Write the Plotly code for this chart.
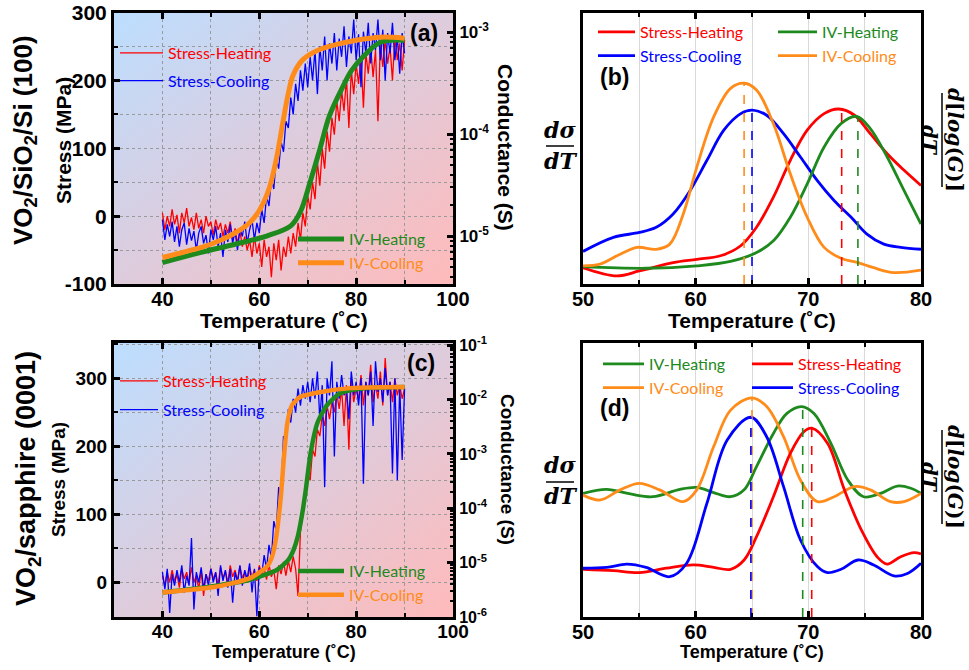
import base64
import plotly.graph_objects as go

# ---------------- data ----------------
# temperature sampling of the stress measurements (deg C)
T_stress = [round(40 + 0.5 * i, 1) for i in range(101)]

# (a) VO2/SiO2/Si (100) stress (MPa)
a_stress_heat = [5, -20, 0, -15, 10, -12, 2, -25, 5, -10, 12, -15, -2, -20, 5, -18, -5, -25, 0, -15,
                 -8, -28, -5, -20, -10, -30, -12, -25, -8, -35, -18, -40, -22, -45, -30, -50, -35, -60, -30, -55,
                 -40, -75, -35, -60, -45, -90, -40, -65, -35, -80, -45, -60, -30, -55, -25, -45, -10, -35, 5, -15,
                 30, 10, 50, 25, 80, 45, 100, 70, 125, 95, 145, 120, 170, 140, 185, 155, 205, 130, 215, 180,
                 225, 195, 235, 160, 240, 210, 250, 205, 245, 140, 255, 220, 260, 225, 250, 200, 265, 230, 255, 215,
                 260]
a_stress_cool = [-5, -35, -12, -30, -8, -38, -15, -45, -20, -10, -42, -18, -36, -22, -50, -25, -15, -40, -28, -55,
                 -20, -35, -15, -45, -25, -60, -20, -38, -12, -40, -22, -50, -18, -30, -8, -40, -20, -5, -35, -10,
                 -25, 10, -10, 30, 15, 55, 40, 85, 70, 110, 95, 140, 130, 175, 150, 195, 170, 215, 185, 225,
                 190, 235, 200, 245, 180, 250, 215, 265, 200, 255, 225, 270, 215, 262, 235, 280, 220, 265, 240, 290,
                 230, 268, 190, 272, 240, 285, 225, 270, 245, 290, 230, 275, 200, 270, 240, 285, 230, 265, 210, 270,
                 240]
# (a) conductance, log10(G / S)
a_ivh_T = [40, 48, 55, 61.5, 66.5, 68.5, 70.5, 72.5, 74.5, 77, 79, 81.5, 85, 90]
a_ivh_logG = [-5.26, -5.16, -5.08, -5.0, -4.9, -4.76, -4.47, -4.15, -3.82, -3.56, -3.38, -3.24, -3.10, -3.08]
a_ivc_T = [40, 45, 50, 55, 58, 60, 62, 63.5, 65, 66, 67, 69, 72, 76, 80, 85, 90]
a_ivc_logG = [-5.21, -5.15, -5.08, -4.97, -4.87, -4.75, -4.54, -4.25, -3.85, -3.6, -3.42, -3.27, -3.18, -3.12,
              -3.08, -3.05, -3.06]

# (c) VO2/sapphire (0001) stress (MPa)
c_stress_heat = [10, -5, 15, 0, 18, 2, 12, -8, 20, 5, 15, -2, 22, 0, 10, -10, 18, -20, 12, 2,
                 20, 5, 14, -3, 22, 6, 16, 0, 25, 8, 18, 2, 24, 6, 15, 0, 22, 8, 18, 2,
                 25, 10, 20, 4, 26, 8, 18, -10, 25, 12, 30, 10, 32, 15, 38, 20, -20, 75, 100, 130,
                 160, 150, 195, 185, 225, 215, 245, 230, 260, 240, 265, 250, 278, 255, 285, 230, 290, 195, 300, 265,
                 285, 270, 305, 260, 295, 275, 320, 265, 290, 270, 310, 260, 330, 275, 295, 265, 300, 275, 290, 270,
                 285]
c_stress_cool = [15, -10, 20, -45, 12, -5, 18, 0, 25, -15, 10, -5, 65, -40, 15, 0, 22, -10, 12, -5,
                 20, 0, 15, -20, 25, 2, 18, -8, 20, -30, 15, 0, 25, -5, 18, 5, 28, -15, 20, -50,
                 22, 10, 40, 20, 55, 35, 90, 75, 140, 130, 215, 200, 255, 235, 270, 250, 285, 260, 290, 270,
                 295, 265, 300, 270, 310, 240, 290, 140, 300, 275, 325, 185, 295, 270, 305, 275, 285, 240, 310, 275,
                 295, 260, 300, 145, 295, 275, 310, 230, 325, 280, 300, 265, 315, 275, 295, 160, 300, 150, 290, 180,
                 285]
c_ivh_T = [40, 50, 58.2, 63.7, 66, 67.1, 68, 68.9, 69.6, 70.6, 72, 74, 76.8, 82.3, 90]
c_ivh_logG = [-5.55, -5.44, -5.31, -5.13, -4.95, -4.76, -4.5, -4.08, -3.66, -2.98, -2.43, -2.10, -1.88, -1.79,
              -1.77]
c_ivc_T = [40, 51.3, 58.2, 61.6, 62.6, 63.4, 64.4, 65.1, 65.8, 66.8, 68.5, 72.7, 78.9, 90]
c_ivc_logG = [-5.55, -5.44, -5.28, -5.07, -4.9, -4.58, -3.84, -3.05, -2.43, -2.10, -1.95, -1.86, -1.79, -1.77]

# (b) derivatives (arbitrary units)
b_sh_T = [50, 53, 55, 58, 60.1, 62.2, 64, 65.4, 66.9, 68.4, 69.9, 71.4, 72.7, 74.1, 75.5, 77, 78.5, 80]
b_sh_v = [0.06, 0.03, 0.048, 0.079, 0.091, 0.104, 0.141, 0.209, 0.32, 0.456, 0.567, 0.628, 0.645, 0.622, 0.554,
          0.48, 0.419, 0.363]
b_sc_T = [50, 52.7, 55, 56.5, 58, 59.5, 61, 62.5, 64, 65, 66.3, 67.8, 69.3, 70.8, 72.3, 73.8, 75.2, 76.7, 78.2, 80]
b_sc_v = [0.12, 0.172, 0.19, 0.209, 0.258, 0.344, 0.456, 0.567, 0.628, 0.641, 0.622, 0.554, 0.468, 0.381, 0.307,
          0.246, 0.184, 0.147, 0.135, 0.128]
b_ivh_T = [50, 55.6, 60.1, 63.1, 65.4, 66.9, 68.4, 69.9, 71.4, 72.9, 74.3, 75.5, 77, 78.5, 80]
b_ivh_v = [0.064, 0.058, 0.067, 0.083, 0.116, 0.159, 0.246, 0.369, 0.505, 0.591, 0.618, 0.573, 0.468, 0.344, 0.221]
b_ivc_T = [50, 51.5, 53.3, 54.8, 56.5, 57.7, 58.9, 60.1, 61.6, 63.1, 64.3, 65.4, 66.9, 68.4, 69.9, 71.4, 72.9,
           74.4, 75.8, 77.6, 80]
b_ivc_v = [0.067, 0.073, 0.11, 0.135, 0.128, 0.147, 0.258, 0.431, 0.616, 0.721, 0.74, 0.715, 0.591, 0.406, 0.246,
           0.135, 0.095, 0.079, 0.06, 0.042, 0.051]
# peak markers (b): Stress-Heating, Stress-Cooling, IV-Heating, IV-Cooling
b_peak_T = [72.96, 65.0, 74.4, 64.3]
b_peak_v = [0.643, 0.641, 0.617, 0.74]

# (d) derivatives (arbitrary units)
d_ivh_T = [50, 52.1, 54.2, 56.2, 58.6, 60.1, 61.6, 63.1, 64.3, 65.4, 66.9, 68.1, 69.4, 70.5, 72, 73.5, 74.9, 76.4,
           77.9, 79.1, 80]
d_ivh_v = [0.451, 0.466, 0.449, 0.439, 0.466, 0.473, 0.454, 0.439, 0.464, 0.549, 0.67, 0.743, 0.768, 0.743, 0.634,
           0.5, 0.439, 0.451, 0.478, 0.47, 0.451]
d_ivc_T = [50, 51.5, 53.3, 55, 56.8, 58.9, 60.1, 61.6, 63.1, 65.0, 66.3, 67.8, 69.3, 70.8, 72.3, 74.1, 75.5, 77.3,
           78.5, 80]
d_ivc_v = [0.445, 0.427, 0.464, 0.488, 0.464, 0.421, 0.464, 0.622, 0.755, 0.8, 0.768, 0.658, 0.5, 0.421, 0.439,
           0.476, 0.464, 0.421, 0.421, 0.451]
d_sc_T = [50, 52.1, 53.9, 55.6, 57.7, 59.2, 61, 62.8, 64.9, 66.3, 67.8, 69.3, 70.8, 71.7, 72.9, 74.4, 75.8, 77.6,
          78.8, 80]
d_sc_v = [0.178, 0.181, 0.193, 0.181, 0.147, 0.196, 0.415, 0.646, 0.729, 0.658, 0.476, 0.281, 0.184, 0.162, 0.174,
          0.208, 0.19, 0.15, 0.159, 0.196]
d_sh_T = [50, 52.7, 55, 57.4, 59.8, 61.6, 63.1, 64.3, 65.4, 66.9, 68.4, 69.6, 70.3, 71.7, 73.2, 74.7, 76.1, 77,
          78.2, 79.4, 80]
d_sh_v = [0.174, 0.169, 0.162, 0.178, 0.19, 0.181, 0.174, 0.208, 0.293, 0.439, 0.597, 0.676, 0.689, 0.634, 0.464,
          0.318, 0.22, 0.193, 0.22, 0.235, 0.23]
# peak markers (d): IV-Heating, IV-Cooling, Stress-Cooling, Stress-Heating
d_peak_T = [69.5, 65.0, 64.9, 70.3]
d_peak_v = [0.768, 0.80, 0.729, 0.689]

# tick labels
a_y_ticks = [-100, 0, 100, 200, 300]
a_y_labels = ["-100", "0", "100", "200", "300"]
c_y_ticks = [0, 100, 200, 300]
c_y_labels = ["0", "100", "200", "300"]
a_g_ticks = [1e-3, 1e-4, 1e-5]
a_g_labels = ["10<sup>-3</sup>", "10<sup>-4</sup>", "10<sup>-5</sup>"]
c_g_ticks = [1e-1, 1e-2, 1e-3, 1e-4, 1e-5, 1e-6]
c_g_labels = ["10<sup>-1</sup>", "10<sup>-2</sup>", "10<sup>-3</sup>", "10<sup>-4</sup>", "10<sup>-5</sup>",
              "10<sup>-6</sup>"]

# ---------------- style ----------------
W, H = 969, 670
RED, BLUE, GREEN, ORANGE = "#FF0000", "#0000FF", "#1E8A1E", "#FF8C1A"
BOLD = dict(family="Liberation Sans, Arial", color="black", weight="bold")
LEG_FONT = dict(family="Lato", size=16)


def fx(p):
    return p / W


def fy(p):
    return 1 - p / H


def lab(text, color):
    return f"<span style='color:{color}'>{text}</span>"


A_X = [fx(114), fx(453)]
B_X = [fx(583), fx(921)]
TOP_Y = [fy(284), fy(12.7)]
BOT_Y = [fy(617), fy(343)]

fig = go.Figure()


def G(vals):
    return [10 ** v for v in vals]


# (a)
fig.add_trace(go.Scatter(x=T_stress, y=a_stress_heat, xaxis="x", yaxis="y", mode="lines",
                         line=dict(color=RED, width=1.3), name=lab("Stress-Heating", RED), legend="legend",
                         legendgroup="a1"))
fig.add_trace(go.Scatter(x=T_stress, y=a_stress_cool, xaxis="x", yaxis="y", mode="lines",
                         line=dict(color=BLUE, width=1.3), name=lab("Stress-Cooling", BLUE), legend="legend",
                         legendgroup="a2"))
fig.add_trace(go.Scatter(x=a_ivh_T, y=G(a_ivh_logG), xaxis="x", yaxis="y2", mode="lines",
                         line=dict(color=GREEN, width=5, shape="spline"), name=lab("IV-Heating", GREEN),
                         legend="legend2"))
fig.add_trace(go.Scatter(x=a_ivc_T, y=G(a_ivc_logG), xaxis="x", yaxis="y2", mode="lines",
                         line=dict(color=ORANGE, width=5, shape="spline"), name=lab("IV-Cooling", ORANGE),
                         legend="legend2"))

# (b)
for T, v, c, n, lg in [(b_sh_T, b_sh_v, RED, "Stress-Heating", "legend3"),
                       (b_sc_T, b_sc_v, BLUE, "Stress-Cooling", "legend3"),
                       (b_ivh_T, b_ivh_v, GREEN, "IV-Heating", "legend4"),
                       (b_ivc_T, b_ivc_v, ORANGE, "IV-Cooling", "legend4")]:
    fig.add_trace(go.Scatter(x=T, y=v, xaxis="x2", yaxis="y3", mode="lines",
                             line=dict(color=c, width=2.8, shape="spline"), name=lab(n, c), legend=lg))
for T, v, c in zip(b_peak_T, b_peak_v, [RED, BLUE, GREEN, ORANGE]):
    fig.add_trace(go.Scatter(x=[T, T], y=[0, v], xaxis="x2", yaxis="y3", mode="lines",
                             line=dict(color=c, width=1.6, dash="dash"), showlegend=False))

# (c)
fig.add_trace(go.Scatter(x=T_stress, y=c_stress_heat, xaxis="x3", yaxis="y4", mode="lines",
                         line=dict(color=RED, width=1.3), name=lab("Stress-Heating", RED), legend="legend5",
                         legendgroup="c1"))
fig.add_trace(go.Scatter(x=T_stress, y=c_stress_cool, xaxis="x3", yaxis="y4", mode="lines",
                         line=dict(color=BLUE, width=1.3), name=lab("Stress-Cooling", BLUE), legend="legend5",
                         legendgroup="c2"))
fig.add_trace(go.Scatter(x=c_ivh_T, y=G(c_ivh_logG), xaxis="x3", yaxis="y5", mode="lines",
                         line=dict(color=GREEN, width=4.5, shape="spline", smoothing=0.6),
                         name=lab("IV-Heating", GREEN), legend="legend6"))
fig.add_trace(go.Scatter(x=c_ivc_T, y=G(c_ivc_logG), xaxis="x3", yaxis="y5", mode="lines",
                         line=dict(color=ORANGE, width=4.5, shape="spline", smoothing=0.6),
                         name=lab("IV-Cooling", ORANGE), legend="legend6"))

# (d)
for T, v, c, n, lg in [(d_ivh_T, d_ivh_v, GREEN, "IV-Heating", "legend7"),
                       (d_ivc_T, d_ivc_v, ORANGE, "IV-Cooling", "legend7"),
                       (d_sh_T, d_sh_v, RED, "Stress-Heating", "legend8"),
                       (d_sc_T, d_sc_v, BLUE, "Stress-Cooling", "legend8")]:
    fig.add_trace(go.Scatter(x=T, y=v, xaxis="x4", yaxis="y6", mode="lines",
                             line=dict(color=c, width=2.8, shape="spline"), name=lab(n, c), legend=lg))
for T, v, c in zip(d_peak_T, d_peak_v, [GREEN, ORANGE, BLUE, RED]):
    fig.add_trace(go.Scatter(x=[T, T], y=[0, v], xaxis="x4", yaxis="y6", mode="lines",
                             line=dict(color=c, width=1.6, dash="dash"), showlegend=False))

# ---------------- axes ----------------
frame = dict(showline=True, linewidth=3, linecolor="black", zeroline=False, automargin=False)
dotgrid = dict(showgrid=True, gridcolor="#9a9a9a", griddash="dot", gridwidth=1)


def left_x(domain, anchor, size):
    return dict(domain=domain, anchor=anchor, range=[30, 100], tick0=40, dtick=20, ticks="inside", ticklen=6,
                tickwidth=2.5, tickcolor="black", mirror="ticks", tickfont=dict(size=size, **BOLD),
                ticklabelstandoff=-5,
                minor=dict(dtick=10, ticks="inside", ticklen=4, tickwidth=2, showgrid=True, gridcolor="#9a9a9a",
                           griddash="dot"),
                **frame, **dotgrid)


def deriv_x(domain, anchor):
    return dict(domain=domain, anchor=anchor, range=[50, 80], tick0=50, dtick=10, ticks="inside", ticklen=6,
                tickwidth=2.5, tickcolor="black", mirror="allticks", tickfont=dict(size=20, **BOLD),
                ticklabelstandoff=-5,
                showgrid=True, gridcolor="#d9d9d9", gridwidth=1,
                minor=dict(dtick=5, ticks="inside", ticklen=4, tickwidth=2, showgrid=True, gridcolor="#d9d9d9"),
                **frame)


def minor_log(lo, hi):
    vals = []
    for e in range(lo, hi):
        for m in range(2, 10):
            vals.append(m * 10 ** e)
    return vals


fig.update_layout(
    width=W, height=H, margin=dict(l=0, r=0, t=0, b=0, autoexpand=False),
    paper_bgcolor="white", plot_bgcolor="rgba(0,0,0,0)",
    xaxis=left_x(A_X, "y", 20),
    yaxis=dict(domain=TOP_Y, anchor="x", range=[-100, 300], tickvals=a_y_ticks, ticktext=a_y_labels,
               ticks="inside", ticklen=6, tickwidth=2.5, tickcolor="black", mirror=True,
               tickfont=dict(size=21, **BOLD),
               minor=dict(dtick=50, ticks="inside", ticklen=4, tickwidth=2, showgrid=True, gridcolor="#9a9a9a",
                          griddash="dot"),
               **frame, **dotgrid),
    yaxis2=dict(overlaying="y", side="right", anchor="x", type="log", range=[-5.47, -2.81],
                tickvals=a_g_ticks, ticktext=a_g_labels, ticks="inside", ticklen=6, tickwidth=2.5,
                tickcolor="black", tickfont=dict(size=17, **BOLD), showgrid=False,
                minor=dict(tickvals=minor_log(-6, -2), ticks="inside", ticklen=3, tickwidth=1.5,
                           tickcolor="black", showgrid=False),
                **frame),
    xaxis2=deriv_x(B_X, "y3"),
    yaxis3=dict(domain=TOP_Y, anchor="x2", range=[0, 1], showticklabels=False, ticks="", showgrid=False,
                mirror=True, **frame),
    xaxis3=left_x(A_X, "y4", 19),
    yaxis4=dict(domain=BOT_Y, anchor="x3", range=[-51, 352], tickvals=c_y_ticks, ticktext=c_y_labels,
                ticks="inside", ticklen=6, tickwidth=2.5, tickcolor="black", mirror=True,
                tickfont=dict(size=19, **BOLD),
                minor=dict(dtick=50, ticks="inside", ticklen=4, tickwidth=2, showgrid=True, gridcolor="#9a9a9a",
                           griddash="dot"),
                **frame, **dotgrid),
    yaxis5=dict(overlaying="y4", side="right", anchor="x3", type="log", range=[-6, -0.96],
                tickvals=c_g_ticks, ticktext=c_g_labels, ticks="inside", ticklen=6, tickwidth=2.5,
                tickcolor="black", tickfont=dict(size=16, **BOLD), showgrid=False,
                minor=dict(tickvals=minor_log(-6, -1), ticks="inside", ticklen=3, tickwidth=1.5,
                           tickcolor="black", showgrid=False),
                **frame),
    xaxis4=deriv_x(B_X, "y6"),
    yaxis6=dict(domain=BOT_Y, anchor="x4", range=[0, 1], showticklabels=False, ticks="", showgrid=False,
                mirror=True, **frame),
    showlegend=True,
)

# ---------------- legends ----------------
def legend(x, y, iw, gap=0):
    return dict(x=fx(x), y=fy(y), xanchor="left", yanchor="top", bgcolor="rgba(0,0,0,0)", borderwidth=0,
                font=LEG_FONT, tracegroupgap=gap, traceorder="grouped", itemwidth=iw,
                itemclick=False, itemdoubleclick=False)


fig.update_layout(
    legend=legend(115, 36, 43, 4),
    legend2=legend(293, 222, 46),
    legend3=legend(593, 15, 37),
    legend4=legend(773, 15, 39),
    legend5=legend(115, 364, 38, 5),
    legend6=legend(293, 554, 46),
    legend7=legend(598, 347, 41),
    legend8=legend(747, 347, 41),
)

# ---------------- gradient background for (a) and (c) ----------------
svg = ('<svg xmlns="http://www.w3.org/2000/svg" width="200" height="200" preserveAspectRatio="none">'
       '<defs><linearGradient id="g" x1="0" y1="0" x2="1" y2="1">'
       '<stop offset="0" stop-color="rgb(188,222,255)"/>'
       '<stop offset="1" stop-color="rgb(255,186,186)"/></linearGradient></defs>'
       '<rect width="200" height="200" fill="url(#g)"/></svg>')
src = "data:image/svg+xml;base64," + base64.b64encode(svg.encode()).decode()
images = []
for dom in (TOP_Y, BOT_Y):
    images.append(dict(source=src, xref="paper", yref="paper", x=A_X[0], y=dom[1],
                       sizex=A_X[1] - A_X[0], sizey=dom[1] - dom[0], sizing="stretch",
                       xanchor="left", yanchor="top", layer="below"))
fig.update_layout(images=images)

# ---------------- annotations ----------------
ann = []


def text(x, y, t, size, angle=0, family="Liberation Sans, Arial", bold=True, color="black"):
    f = dict(family=family, size=size, color=color)
    if bold:
        f["weight"] = "bold"
    ann.append(dict(x=fx(x), y=fy(y), xref="paper", yref="paper", text=t, showarrow=False, textangle=angle,
                    font=f, xanchor="center", yanchor="middle"))


# left titles
text(25, 140, "VO<sub>2</sub>/SiO<sub>2</sub>/Si (100)", 26, -90)
text(63, 141, "Stress (MPa)", 21, -90)
text(28, 479, "VO<sub>2</sub>/sapphire (0001)", 27, -90)
text(58, 480, "Stress (MPa)", 19, -90)
# x titles
text(283.5, 320, "Temperature (˚C)", 21)
text(752, 320, "Temperature (˚C)", 21)
text(283.5, 652, "Temperature (˚C)", 18)
text(752, 652, "Temperature (˚C)", 18)
# right conductance titles
text(506, 147, "Conductance (S)", 21, 90)
text(507, 469, "Conductance (S)", 19, 90)
# panel labels
text(424, 33, "(a)", 23)
text(614, 77, "(b)", 23)
text(421, 363, "(c)", 23)
text(614, 408, "(d)", 23)

# derivative labels
SERIF = "DejaVu Serif, Liberation Serif"
for (yn, yl, yd) in [(130, 146, 161), (465, 482, 496)]:
    text(560, yn, "<i>dσ</i>", 22, family=SERIF)
    text(560, yd, "<i>dT</i>", 22, family=SERIF)
for yc in (140, 477):
    text(955, yc, "<i>d</i>[<i>log</i>(<i>G</i>)]", 20, 90, family=SERIF)
    text(929, yc, "<i>dT</i>", 20, 90, family=SERIF)
fig.update_layout(annotations=ann)

shapes = []
for yl in (146, 482):
    shapes.append(dict(type="line", xref="paper", yref="paper", x0=fx(546), x1=fx(574), y0=fy(yl), y1=fy(yl),
                       line=dict(color="black", width=1.5)))
for yc in (140, 477):
    shapes.append(dict(type="line", xref="paper", yref="paper", x0=fx(942), x1=fx(942), y0=fy(yc - 47),
                       y1=fy(yc + 47), line=dict(color="black", width=1.5)))
fig.update_layout(shapes=shapes)

fig.write_html("out.html", config={"displayModeBar": False},
               post_script="document.body.style.margin='0';document.body.style.overflow='hidden';")
